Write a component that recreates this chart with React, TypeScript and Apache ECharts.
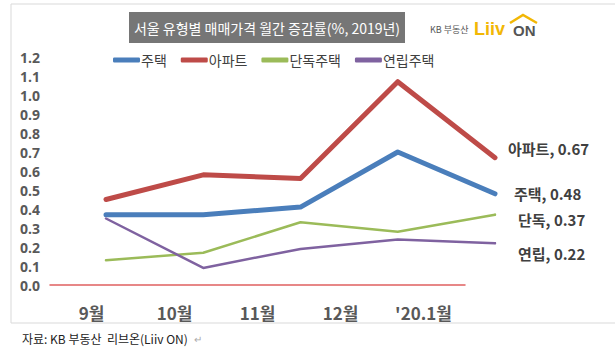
import React, { useEffect, useRef } from "react";
import * as echarts from "echarts";

const months = ["9월", "10월", "11월", "12월", "'20.1월"];
const house = [0.37, 0.37, 0.41, 0.70, 0.48];
const apt = [0.45, 0.58, 0.56, 1.07, 0.67];
const detached = [0.13, 0.17, 0.33, 0.28, 0.37];
const rowHouse = [0.35, 0.09, 0.19, 0.24, 0.22];
const seriesNames = ["주택", "아파트", "단독주택", "연립주택"];
const endLabelNames = ["주택", "아파트", "단독", "연립"];
const colors = ["#4A7EBB", "#BE4B48", "#9BBB59", "#7F62A0"];
const widths = [5, 5, 2.5, 2.5];
const labelShift = [
  [16, 0],
  [10, -9],
  [20, 5],
  [20, 10],
];

const KR = "'Noto Sans CJK KR', 'Noto Sans', sans-serif";

export default function App() {
  const ref = useRef<HTMLDivElement>(null);
  useEffect(() => {
    if (!ref.current) return;
    const chart = echarts.init(ref.current, undefined, { renderer: "svg" });
    const all = [house, apt, detached, rowHouse];
    const series: any[] = all.map((vals, i) => ({
      name: seriesNames[i],
      type: "line",
      xAxisIndex: 0,
      yAxisIndex: 0,
      symbol: "none",
      itemStyle: { color: colors[i] },
      lineStyle: { color: colors[i], width: widths[i], cap: "round", join: "round" },
      labelLayout: { dx: labelShift[i][0], dy: labelShift[i][1] },
      data: vals.map((v, j) =>
        j === vals.length - 1
          ? {
              value: v,
              symbol: "circle",
              symbolSize: 2,
              label: {
                show: true,
                position: "right",
                distance: 2,
                formatter: `${endLabelNames[i]}, ${v.toFixed(2)}`,
                fontFamily: KR,
                fontWeight: "bold",
                fontSize: 15,
                color: "#404040",
              },
            }
          : v
      ),
    }));
    series.push({
      type: "line",
      xAxisIndex: 1,
      yAxisIndex: 1,
      data: [],
      silent: true,
    });
    chart.setOption({
      animation: false,
      backgroundColor: "#ffffff",
      legend: {
        data: seriesNames,
        left: 108,
        top: 48,
        itemGap: 14,
        itemWidth: 27,
        itemHeight: 5,
        icon: "roundRect",
        textStyle: { fontFamily: KR, fontSize: 14, color: "#404040", padding: [0, 0, 0, -4] },
      },
      grid: [
        { left: 106, right: 120, top: 57, bottom: 66 },
        { left: 50, right: 150, top: 57, bottom: 66 },
      ],
      xAxis: [
        {
          gridIndex: 0,
          type: "category",
          data: months,
          boundaryGap: false,
          show: false,
        },
        {
          gridIndex: 1,
          type: "category",
          data: months,
          boundaryGap: true,
          axisLine: { show: true, lineStyle: { color: "#E06060", width: 1.5 } },
          axisTick: { show: false },
          axisLabel: {
            margin: 19,
            fontFamily: KR,
            fontWeight: "bold",
            fontSize: 17,
            color: "#595959",
          },
        },
      ],
      yAxis: [
        {
          gridIndex: 0,
          type: "value",
          min: 0,
          max: 1.2,
          interval: 0.1,
          show: false,
        },
        {
          gridIndex: 1,
          type: "value",
          min: 0,
          max: 1.2,
          interval: 0.1,
          axisLine: { show: false },
          axisTick: { show: false },
          splitLine: { show: false },
          axisLabel: {
            margin: 10,
            fontFamily: "'Open Sans', sans-serif",
            fontWeight: "bold",
            fontSize: 14,
            color: "#595959",
            formatter: (v: number) => v.toFixed(1),
          },
        },
      ],
      graphic: [
        {
          type: "rect",
          shape: { x: 11, y: 4, width: 620, height: 319 },
          style: { fill: "none", stroke: "#D9D9D9", lineWidth: 1 },
          silent: true,
        },
        {
          type: "rect",
          shape: { x: 129, y: 12, width: 276, height: 31 },
          style: { fill: "#767676" },
        },
        {
          type: "text",
          x: 267,
          y: 28,
          style: {
            text: "서울 유형별 매매가격 월간 증감률(%, 2019년)",
            fill: "#ffffff",
            font: `14px ${KR}`,
            align: "center",
            verticalAlign: "middle",
          },
        },
        {
          type: "text",
          x: 430,
          y: 29,
          style: {
            text: "KB 부동산",
            fill: "#555555",
            font: `9px ${KR}`,
            verticalAlign: "middle",
          },
        },
        {
          type: "text",
          x: 474,
          y: 29,
          style: {
            text: "Liiv",
            fill: "#F2B705",
            font: `bold 18px 'Liberation Sans', sans-serif`,
            verticalAlign: "middle",
          },
        },
        {
          type: "text",
          x: 513,
          y: 30,
          style: {
            text: "ON",
            fill: "#555555",
            font: `bold 15px 'Liberation Sans', sans-serif`,
            verticalAlign: "middle",
          },
        },
        {
          type: "polyline",
          shape: { points: [[510, 23], [523, 15], [537, 23]] },
          style: { stroke: "#F2B705", lineWidth: 2.5, fill: "none" },
        },
        {
          type: "text",
          x: 22,
          y: 338,
          style: {
            text: "자료: KB 부동산  리브온(Liiv ON)",
            fill: "#222222",
            font: `12px ${KR}`,
            verticalAlign: "middle",
          },
        },
        {
          type: "text",
          x: 194,
          y: 338,
          style: {
            text: "↵",
            fill: "#AAAAAA",
            font: `10px ${KR}`,
            verticalAlign: "middle",
          },
        },
      ],
      series,
    });
    return () => chart.dispose();
  }, []);
  return (
    <div
      ref={ref}
      style={{ position: "fixed", left: 0, top: 0, width: 615, height: 351 }}
    />
  );
}
